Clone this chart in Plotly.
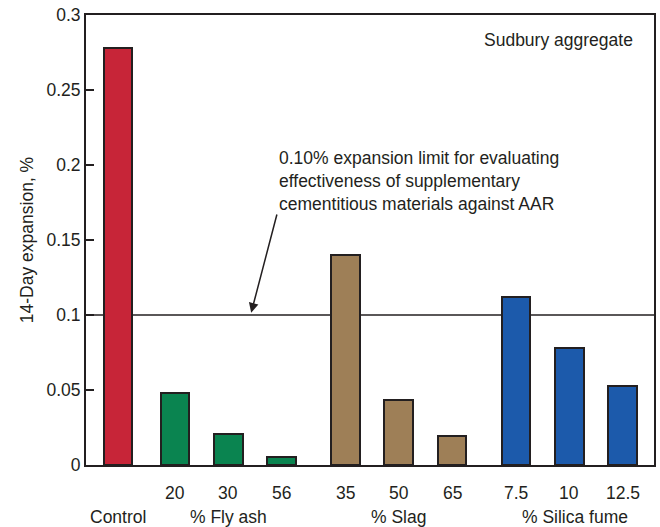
import plotly.graph_objects as go

# ---- data ----
groups = ["Control", "% Fly ash", "% Slag", "% Silica fume"]
labels = ["", "20", "30", "56", "35", "50", "65", "7.5", "10", "12.5"]
group_of = [0, 1, 1, 1, 2, 2, 2, 3, 3, 3]
values = [0.278, 0.048, 0.021, 0.0055, 0.140, 0.0435, 0.0195, 0.112, 0.078, 0.0525]
group_colors = ["#c72538", "#0a8450", "#9e7f57", "#1c5aab"]
limit = 0.10
note = "0.10% expansion limit for evaluating<br>effectiveness of supplementary<br>cementitious materials against AAR"

# positions: step 1 inside a group, extra gap between groups
gap = 0.2
xpos = []
p = 0.0
for i, g in enumerate(group_of):
    if i > 0:
        p += 1.0 + (gap if g != group_of[i - 1] and group_of[i - 1] != 0 else 0) + (0.07 if group_of[i - 1] == 0 and g != 0 else 0)
    xpos.append(p)

line_col = "#231f20"
font_fam = "Liberation Sans, Arial, sans-serif"
fs = 17.5

fig = go.Figure()
fig.add_trace(go.Bar(
    x=xpos, y=values, width=0.54,
    marker=dict(color=[group_colors[g] for g in group_of],
                line=dict(color=line_col, width=2)),
    showlegend=False,
))

fig.add_shape(type="line", xref="paper", yref="y", x0=0, x1=1, y0=limit, y1=limit,
              line=dict(color=line_col, width=1.5), layer="below")

ann = []
for x, lab in zip(xpos, labels):
    if lab:
        ann.append(dict(x=x, y=-0.062, xref="x", yref="paper", text=lab, showarrow=False,
                        font=dict(size=fs, color=line_col), yanchor="middle"))
for gi, gname in enumerate(groups):
    xs = [xpos[i] for i in range(len(xpos)) if group_of[i] == gi]
    cx = sum(xs) / len(xs)
    if gi == 3:
        cx += 0.1
    ann.append(dict(x=cx, y=-0.116, xref="x", yref="paper", text=gname, showarrow=False,
                    font=dict(size=fs, color=line_col), yanchor="middle"))

ann.append(dict(x=0.966, y=0.945, xref="paper", yref="paper", text="Sudbury aggregate",
                showarrow=False, xanchor="right", yanchor="middle",
                font=dict(size=fs, color=line_col)))
ann.append(dict(x=2.99, y=0.213, xref="x", yref="y", text=note, showarrow=False,
                xanchor="left", yanchor="top", align="left",
                font=dict(size=fs, color=line_col)))
ann.append(dict(x=2.50, y=0.1015, xref="x", yref="y", ax=2.99, ay=0.168, axref="x", ayref="y",
                text="", showarrow=True, arrowhead=2, arrowsize=1.3, arrowwidth=1.5,
                arrowcolor=line_col))

fig.update_layout(
    width=660, height=527,
    margin=dict(l=86, r=4, t=15, b=62),
    paper_bgcolor="white", plot_bgcolor="white",
    font=dict(family=font_fam, size=fs, color=line_col),
    annotations=ann,
    xaxis=dict(range=[-0.6, 10.06], showticklabels=False, ticks="", showgrid=False,
               zeroline=False, showline=True, linecolor=line_col, linewidth=2, mirror=True),
    yaxis=dict(range=[0, 0.3], tickvals=[0, 0.05, 0.1, 0.15, 0.2, 0.25, 0.3],
               ticktext=["0", "0.05", "0.1", "0.15", "0.2", "0.25", "0.3"],
               ticks="inside", ticklen=8, tickwidth=2, tickcolor=line_col,
               tickfont=dict(size=fs),
               showgrid=False, zeroline=False, showline=True, linecolor=line_col,
               linewidth=2, mirror=True,
               title=dict(text="14-Day expansion, %", font=dict(size=fs), standoff=8)),
    bargap=0,
)

fig.write_html("out.html")
